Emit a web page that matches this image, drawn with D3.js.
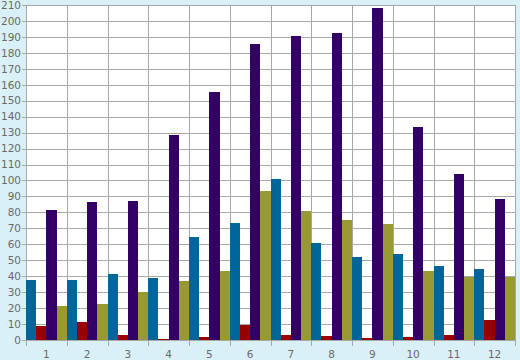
<!DOCTYPE html>
<html><head><meta charset="utf-8">
<script src="https://cdn.jsdelivr.net/npm/d3@7"></script>
<style>
html,body{margin:0;padding:0;background:#daf0f7;}
svg{display:block;}
text{font-family:"DejaVu Sans",sans-serif;font-size:10.5px;fill:#6a6a6a;}
</style></head>
<body>
<svg id="c" width="520" height="360"></svg>
<script>
const categories = ["1","2","3","4","5","6","7","8","9","10","11","12"];
const seriesNames = ["Blue","Red","Purple","Olive"];
const seriesColors = ["#006699","#990000","#330066","#999933"];
const blueValues   = [37.6, 37.6, 41.4, 38.9, 64.5, 73.3, 100.9, 60.8, 52.0, 53.9, 46.4, 44.5];
const redValues    = [8.8, 11.3, 3.1, 0.9, 1.9, 9.4, 3.1, 2.5, 1.3, 1.9, 3.1, 12.5];
const purpleValues = [81.5, 86.5, 87.1, 128.5, 155.5, 185.6, 190.6, 192.5, 208.1, 133.5, 104.1, 88.4];
const oliveValues  = [21.3, 22.6, 30.1, 37.0, 43.3, 93.4, 80.9, 75.2, 72.7, 43.3, 39.5, 39.5];
const yTicks = d3.range(0, 211, 10);

const series = [blueValues, redValues, purpleValues, oliveValues];

const svg = d3.select("#c");
const m = {left:26, right:515, top:5, bottom:340};

const x = d3.scaleBand().domain(categories).range([m.left, m.right]).padding(0);
const xs = d3.scaleBand().domain(d3.range(series.length)).range([0, x.bandwidth()]).padding(0);
const y = d3.scaleLinear().domain([0, 210]).range([m.bottom, m.top]);

svg.append("rect").attr("x", m.left).attr("y", m.top)
  .attr("width", m.right - m.left).attr("height", m.bottom - m.top).attr("fill", "#ffffff");

// horizontal gridlines (with small ticks to the left)
svg.append("g").selectAll("line").data(yTicks).join("line")
  .attr("x1", m.left - 4).attr("x2", m.right)
  .attr("y1", d => Math.round(y(d)) + 0.5).attr("y2", d => Math.round(y(d)) + 0.5)
  .attr("stroke", "#a8a8a8").attr("stroke-width", 1);

// vertical gridlines at category boundaries
const bounds = categories.map(c => x(c)).concat([m.right]);
svg.append("g").selectAll("line").data(bounds).join("line")
  .attr("x1", d => Math.round(d) + 0.5).attr("x2", d => Math.round(d) + 0.5)
  .attr("y1", m.top).attr("y2", m.bottom + 6)
  .attr("stroke", "#a8a8a8").attr("stroke-width", 1);

// bars
const g = svg.append("g").attr("shape-rendering", "crispEdges");
series.forEach((vals, si) => {
  g.append("g").attr("fill", seriesColors[si]).selectAll("rect").data(vals).join("rect")
    .attr("x", (d, i) => x(categories[i]) + xs(si))
    .attr("width", xs.bandwidth())
    .attr("y", d => y(d))
    .attr("height", d => y(0) - y(d));
});

// y labels
svg.append("g").selectAll("text").data(yTicks).join("text")
  .attr("x", 21).attr("y", d => y(d)).attr("dy", "0.36em")
  .attr("text-anchor", "end").text(d => d);

// x labels
svg.append("g").selectAll("text").data(categories).join("text")
  .attr("x", d => x(d) + x.bandwidth() / 2).attr("y", 357.5)
  .attr("text-anchor", "middle").text(d => d);
</script>
</body></html>
